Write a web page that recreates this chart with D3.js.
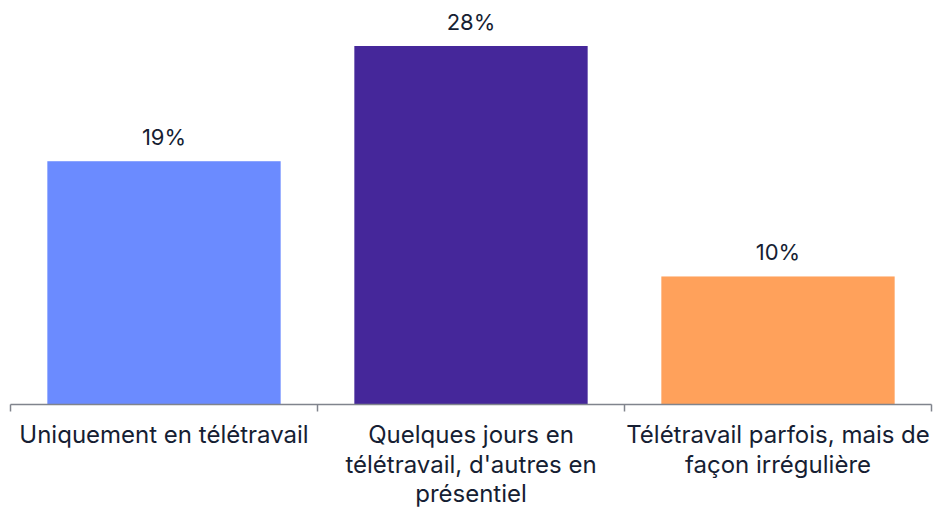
<!DOCTYPE html>
<meta charset="utf-8">
<style>
html, body { margin: 0; padding: 0; background: #fff; }
svg { display: block; }
text { font-family: Inter, "Noto Sans", sans-serif; fill: #161e33; }
</style>
<svg width="935" height="507"></svg>
<script src="https://cdn.jsdelivr.net/npm/d3@7"></script>
<script>

var categories = [
  ["Uniquement en télétravail"],
  ["Quelques jours en", "télétravail, d'autres en", "présentiel"],
  ["Télétravail parfois, mais de", "façon irrégulière"]
];
var values = [19, 28, 10];
var colors = ["#6b8bff", "#45279a", "#ffa15b"];

var svg = d3.select("svg");
var baseline = 404.5;

var x = d3.scaleBand()
    .domain(d3.range(values.length))
    .range([10.5, 931.5])
    .paddingInner(0)
    .paddingOuter(0);

var y = d3.scaleLinear()
    .domain([0, 28])
    .range([baseline, 46]);

var inset = 0.12;

svg.selectAll("rect.bar")
  .data(values)
  .enter().append("rect")
    .attr("class", "bar")
    .attr("x", function(d, i) { return x(i) + x.bandwidth() * inset; })
    .attr("width", x.bandwidth() * (1 - 2 * inset))
    .attr("y", function(d) { return y(d); })
    .attr("height", function(d) { return baseline - y(d); })
    .attr("fill", function(d, i) { return colors[i]; });

svg.selectAll("text.value")
  .data(values)
  .enter().append("text")
    .attr("class", "value")
    .attr("x", function(d, i) { return x(i) + x.bandwidth() / 2; })
    .attr("y", function(d) { return y(d) - 16; })
    .attr("text-anchor", "middle")
    .style("font-size", "22px")
    .text(function(d) { return d + "%"; });

// axis line + ticks at band edges
var axis = svg.append("g").attr("stroke", "#80848d").attr("stroke-width", 1.5).attr("fill", "none");
axis.append("line")
    .attr("x1", x.range()[0]).attr("x2", x.range()[1])
    .attr("y1", baseline).attr("y2", baseline);
var edges = d3.range(values.length).map(function(i) { return x(i); }).concat([x.range()[1]]);
axis.selectAll("line.tick")
  .data(edges)
  .enter().append("line")
    .attr("class", "tick")
    .attr("x1", function(d) { return d; }).attr("x2", function(d) { return d; })
    .attr("y1", baseline).attr("y2", baseline + 7);

var labels = svg.selectAll("text.cat")
  .data(categories)
  .enter().append("text")
    .attr("class", "cat")
    .attr("text-anchor", "middle")
    .style("font-size", "24px")
    .attr("transform", function(d, i) { return "translate(" + (x(i) + x.bandwidth() / 2) + ",443)"; });

labels.selectAll("tspan")
  .data(function(d) { return d; })
  .enter().append("tspan")
    .attr("x", 0)
    .attr("y", function(d, j) { return j * 29.5; })
    .text(function(d) { return d; });

</script>
